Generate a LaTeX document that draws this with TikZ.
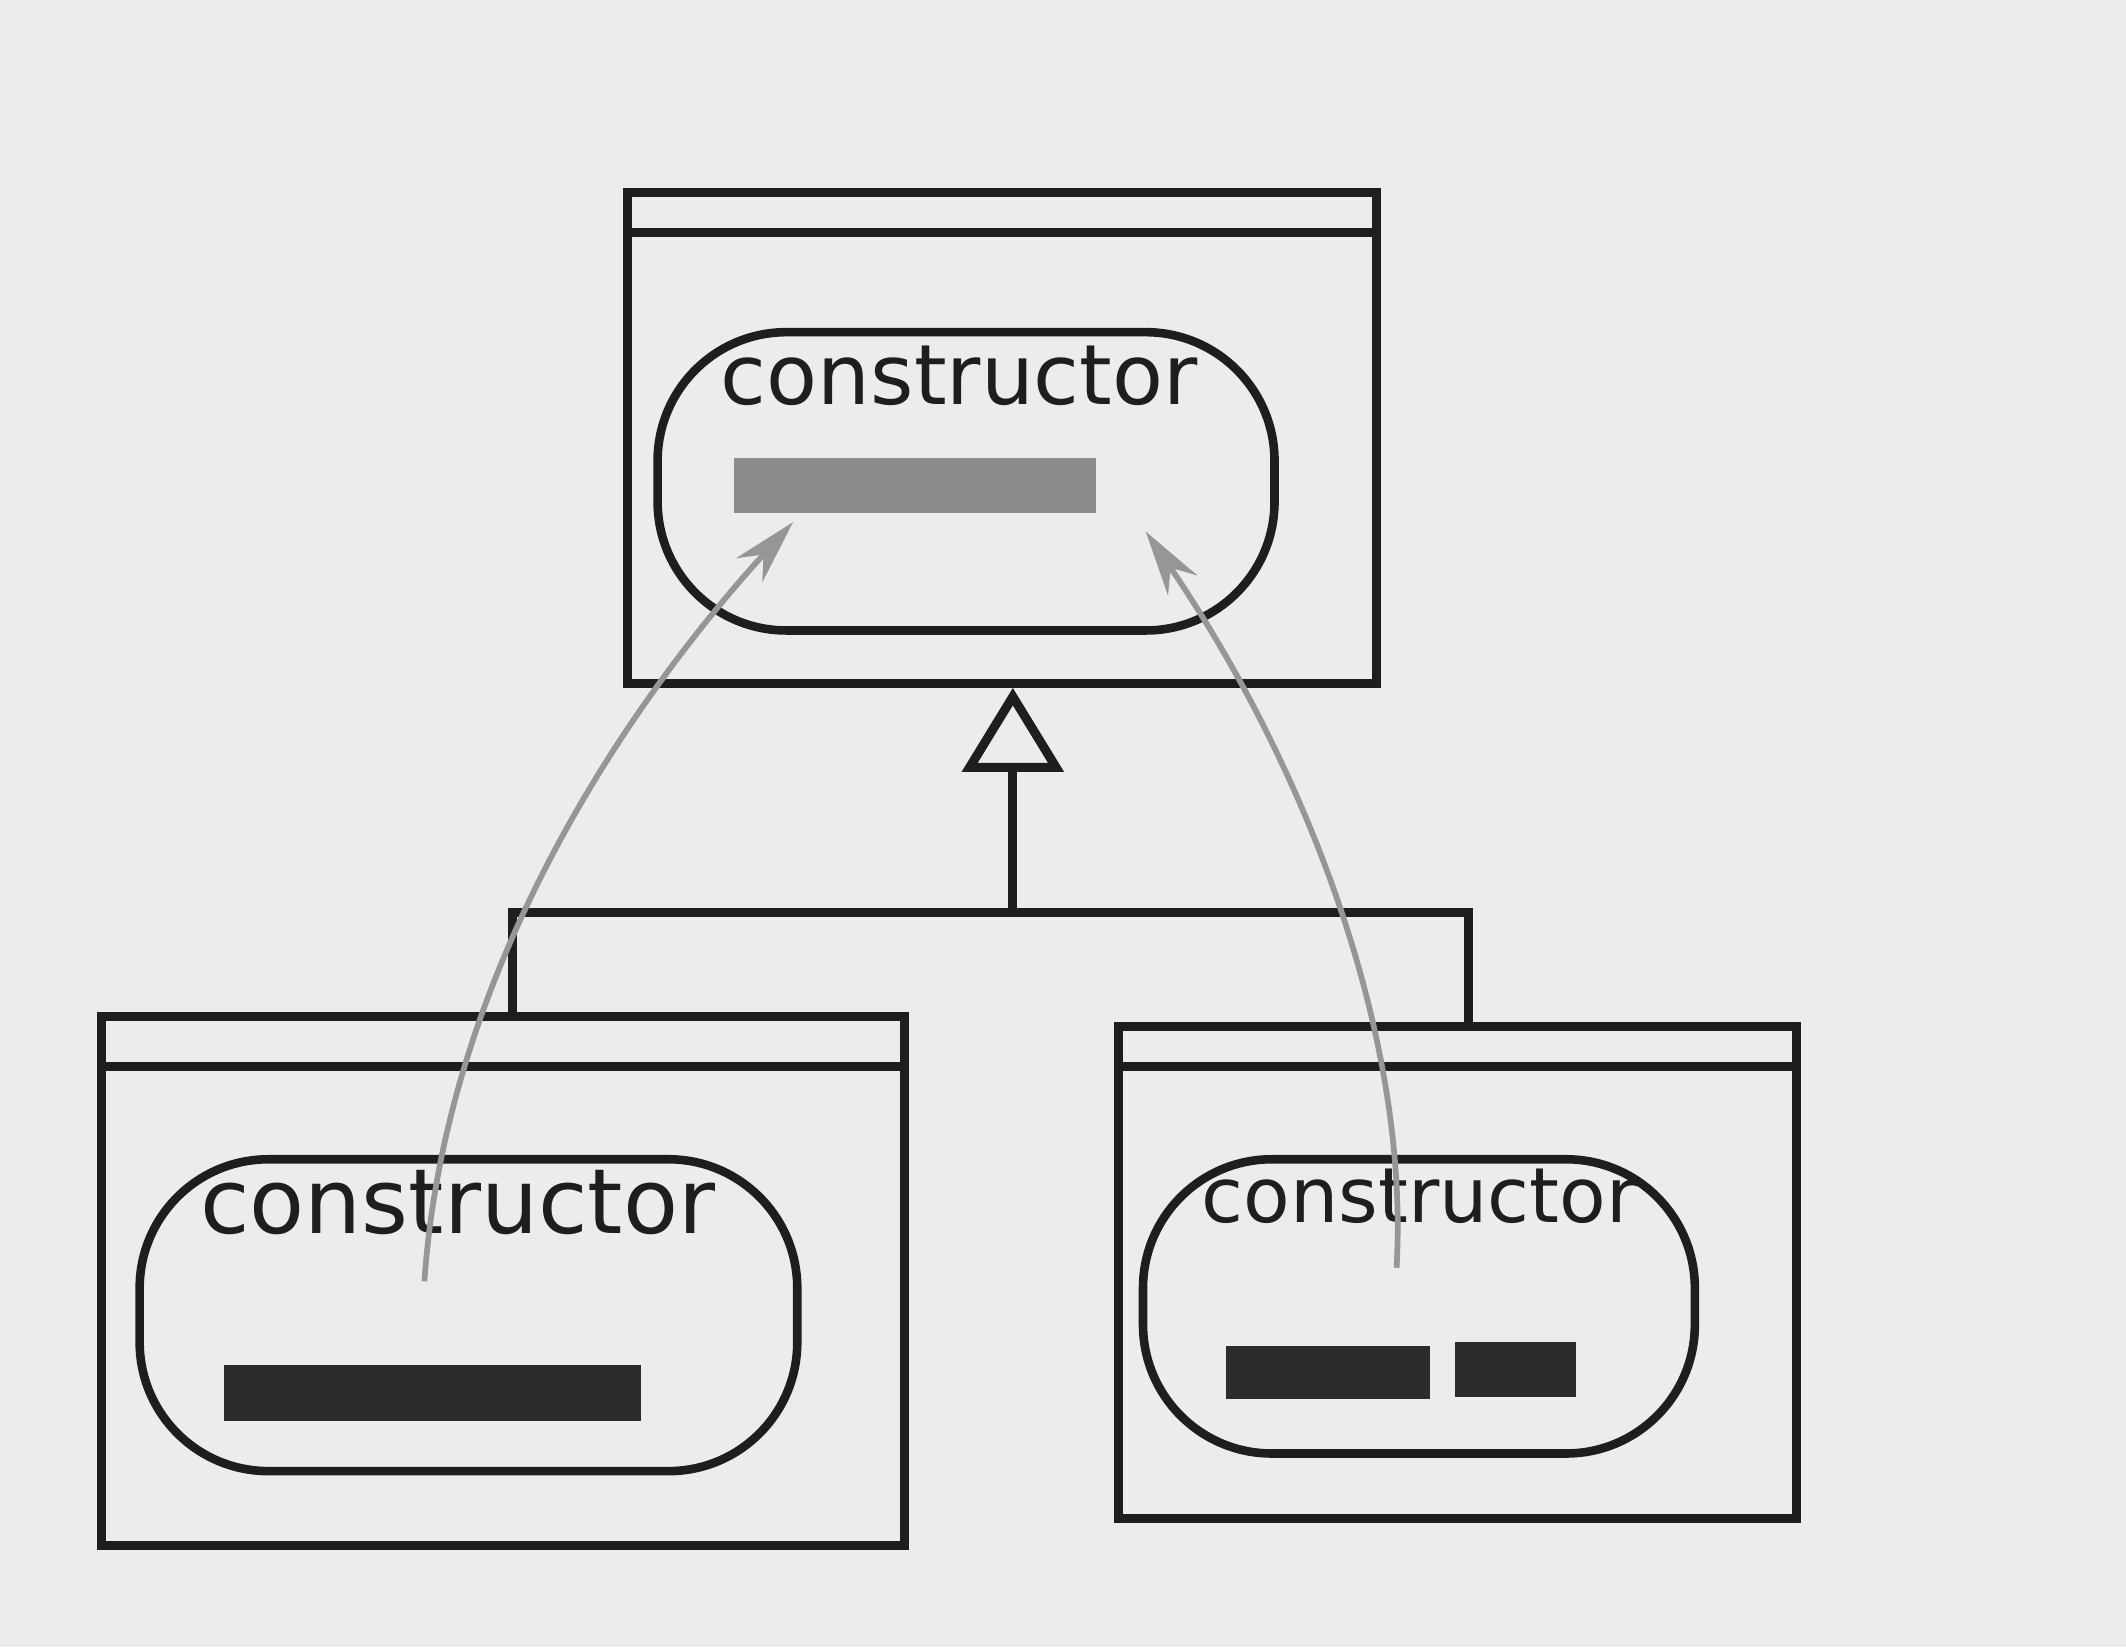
\documentclass[tikz,border=0pt]{standalone}
\usepackage{fontspec}
\usetikzlibrary{arrows.meta, positioning, calc}
\newfontfamily\diagfont{DejaVu Sans}
\definecolor{paper}{RGB}{236,235,237}
\definecolor{ink}{RGB}{30,30,30}
\definecolor{callgray}{RGB}{150,150,150}
\definecolor{barlight}{RGB}{140,140,140}
\definecolor{bardark}{RGB}{45,42,42}

\begin{document}
\begin{tikzpicture}[
    classbox/.style={
        rectangle, draw=ink, line width=1.9pt, inner sep=0pt
    },
    %% big radius so the short sides bulge like a pill
    method/.style={
        rectangle, draw=ink, line width=1.8pt,
        rounded corners=0.95cm, inner sep=0pt
    },
    sig/.style={
        anchor=base, inner sep=0pt, text=ink,
        font=\diagfont\fontsize{#1}{20}\selectfont
    },
    sig/.default=17.5,
    lightbar/.style={rectangle, fill=barlight, inner sep=0pt},
    darkbar/.style={rectangle, fill=bardark, inner sep=0pt},
    sepline/.style={draw=ink, line width=1.9pt},
    inherit/.style={
        -{Triangle[open, length=0.62cm, width=0.74cm]},
        draw=ink, line width=1.9pt
    },
    call/.style={
        -{Stealth[length=0.48cm, width=0.26cm]},
        draw=callgray, line width=1.2pt
    }
]

%% ── Page ─────────────────────────────────────────────────────────────────────
\fill[paper] (0,0) rectangle (15.68,12.15);
\useasboundingbox (0,0) rectangle (15.68,12.15);

%% ── Superclass ───────────────────────────────────────────────────────────────
\node[classbox, minimum width=5.52cm, minimum height=3.62cm] (super) at (7.39, 8.92) {};
\draw[sepline] ([yshift=-0.33cm]super.north west) -- ([yshift=-0.33cm]super.north east);
\node[method, minimum width=4.55cm, minimum height=2.20cm] (superctor) at (7.125, 8.60) {};
\node[sig] (supersig) at (7.075, 9.17) {constructor};
\node[lightbar, minimum width=2.67cm, minimum height=0.40cm] (superbar) at (6.745, 8.57) {};

%% ── Subclass A (left) ────────────────────────────────────────────────────────
\node[classbox, minimum width=5.92cm, minimum height=3.90cm] (subA) at (3.71, 2.70) {};
\draw[sepline] ([yshift=-0.40cm]subA.north west) -- ([yshift=-0.40cm]subA.north east);
\node[method, minimum width=4.85cm, minimum height=2.30cm] (subActor) at (3.455, 2.45) {};
\node[sig=18.9] (subAsig) at (3.375, 3.05) {constructor};
\node[darkbar, minimum width=3.08cm, minimum height=0.41cm] (subAbar) at (3.19, 1.875) {};

%% ── Subclass B (right) ───────────────────────────────────────────────────────
\node[classbox, minimum width=5.00cm, minimum height=3.63cm] (subB) at (10.75, 2.765) {};
\draw[sepline] ([yshift=-0.33cm]subB.north west) -- ([yshift=-0.33cm]subB.north east);
\node[method, minimum width=4.07cm, minimum height=2.17cm] (subBctor) at (10.465, 2.515) {};
\node[sig=16] (subBsig) at (10.47, 3.13) {constructor};
\node[darkbar, minimum width=1.51cm, minimum height=0.39cm] (subBbarA) at (9.795, 2.025) {};
\node[darkbar, minimum width=0.89cm, minimum height=0.40cm] (subBbarB) at (11.175, 2.05) {};

%% ── Inheritance ──────────────────────────────────────────────────────────────
\coordinate (fork)  at (7.47, 5.42);
\coordinate (forkL) at (3.78, 5.42);
\coordinate (forkR) at (10.83, 5.42);
\draw[inherit] (fork) -- (fork |- super.south);
\draw[sepline] (forkL |- subA.north) -- (forkL) -- (forkR) -- (forkR |- subB.north);

%% ── super() calls ────────────────────────────────────────────────────────────
\coordinate (callA) at (3.13, 2.70);
\coordinate (hitA)  at (5.85, 8.30);
\coordinate (callB) at (10.30, 2.80);
\coordinate (hitB)  at (8.45, 8.23);
\draw[call] (callA) .. controls (3.30, 5.15) and (4.80, 7.15) .. (hitA);
\draw[call] (callB) .. controls (10.40, 4.55) and (9.60, 6.55) .. (hitB);

\end{tikzpicture}
\end{document}
